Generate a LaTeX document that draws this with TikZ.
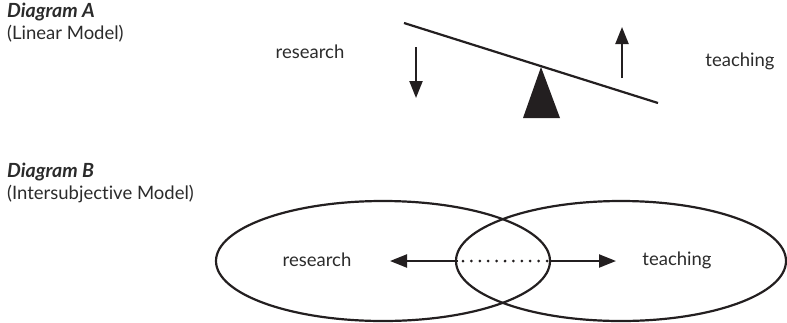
\documentclass[tikz,border=0pt]{standalone}
\usepackage{fontspec}
\setmainfont{Lato}[Ligatures={NoCommon}]
\usetikzlibrary{arrows.meta,shapes.geometric}
\definecolor{ink}{HTML}{231F20}
\definecolor{txt}{HTML}{2B2B2B}
\tikzset{
  lbl/.style={text=txt, font=\fontsize{18.5}{22}\selectfont, inner sep=0pt},
  head/.style={text=txt, font=\fontsize{19.5}{23}\selectfont\bfseries\itshape, inner sep=0pt, anchor=west},
  sub/.style={text=txt, font=\fontsize{18.5}{22}\selectfont, inner sep=0pt, anchor=west},
  beam/.style={draw=ink, line width=2.2pt},
  arr/.style={draw=ink, line width=2.2pt, -{Triangle[length=17pt, width=13pt]}},
  ring/.style={draw=ink, line width=2.2pt},
}
\begin{document}
\begin{tikzpicture}[x=1pt, y=-1pt]
\useasboundingbox (0,0) rectangle (787,322);

% headings
\node[head] (ha) at (7,12) {Diagram A};
\node[sub]  (sa) at (7,34) {(Linear Model)};
\node[head] (hb) at (7,172) {Diagram B};
\node[sub]  (sb) at (7,194) {(Intersubjective Model)};

% linear model: seesaw
\coordinate (b1) at (404,23);
\coordinate (b2) at (658,103);
\draw[beam] (b1) -- (b2);
\coordinate (apex) at (541,67);
\coordinate (bl) at (523,118);
\coordinate (br) at (560,118);
\fill[ink] (apex) -- (br) -- (bl) -- cycle;

\coordinate (d1) at (416,47);
\coordinate (d2) at (416,98);
\draw[arr] (d1) -- (d2);
\coordinate (u1) at (622,78);
\coordinate (u2) at (622,27);
\draw[arr] (u1) -- (u2);

\node[lbl] (ra) at (310,52) {research};
\node[lbl] (ta) at (740,61) {teaching};

% intersubjective model: overlapping ellipses
\node[ring, ellipse, minimum width=334pt, minimum height=120pt, inner sep=0pt] (el) at (383,261) {};
\node[ring, ellipse, minimum width=330pt, minimum height=120pt, inner sep=0pt] (er) at (621,261) {};
\coordinate (li) at (458,261);
\coordinate (ri) at (551,261);
\coordinate (lt) at (390,261);
\coordinate (rt) at (616,261);
\draw[arr] (li) -- (lt);
\draw[arr] (ri) -- (rt);
\draw[ink, line width=3pt, dash pattern=on 0pt off 8.4pt, line cap=round] ([xshift=5pt]li) -- (ri);

\node[lbl] (rb) at (317,260) {research};
\node[lbl] (tb) at (677,260) {teaching};
\end{tikzpicture}
\end{document}
